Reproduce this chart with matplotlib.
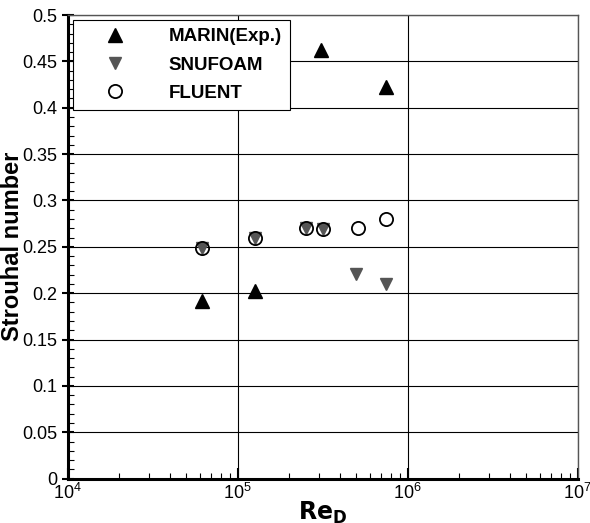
import numpy as np
import matplotlib.pyplot as plt
from matplotlib.ticker import MultipleLocator, LogLocator, NullFormatter

plt.rc('font', family='Liberation Sans')

# Data
marin_re = [6.2e4, 1.26e5, 3.1e5, 7.5e5]
marin_st = [0.192, 0.202, 0.462, 0.422]

snufoam_re = [6.2e4, 1.26e5, 2.52e5, 3.16e5, 5.0e5, 7.5e5]
snufoam_st = [0.249, 0.26, 0.27, 0.269, 0.221, 0.21]

fluent_re = [6.2e4, 1.26e5, 2.52e5, 3.16e5, 5.1e5, 7.5e5]
fluent_st = [0.249, 0.26, 0.27, 0.269, 0.27, 0.28]

fig = plt.figure(figsize=(5.9, 5.23), dpi=100)
ax = fig.add_axes([0.1147, 0.0849, 0.979 - 0.1147, 0.9713 - 0.0849])

ax.plot(marin_re, marin_st, '^', color='black', ms=9.5, ls='none',
        label='MARIN(Exp.)', zorder=3)
ax.plot(snufoam_re, snufoam_st, 'v', color='#555555', ms=8.5, ls='none',
        label='SNUFOAM', zorder=3)
ax.plot(fluent_re, fluent_st, 'o', mfc='none', mec='black', mew=1.3, ms=9.5,
        ls='none', label='FLUENT', zorder=4)

ax.set_xscale('log')
ax.set_xlim(1e4, 1e7)
ax.set_ylim(0, 0.5)

ax.set_yticks(np.arange(0, 0.51, 0.05))
ax.set_yticklabels(['0', '0.05', '0.1', '0.15', '0.2', '0.25', '0.3',
                    '0.35', '0.4', '0.45', '0.5'])
ax.yaxis.set_minor_locator(MultipleLocator(0.01))
ax.xaxis.set_major_locator(LogLocator(base=10, numticks=10))
ax.xaxis.set_minor_locator(LogLocator(base=10, subs=np.arange(2, 10), numticks=20))
ax.xaxis.set_minor_formatter(NullFormatter())

ax.grid(True, which='major', color='black', lw=0.8)
ax.tick_params(which='major', direction='inout', length=8, width=1.5,
               labelsize=13)
ax.tick_params(which='minor', direction='in', length=4, width=0.8)
ax.tick_params(axis='x', which='major', direction='in', length=8, pad=3)

for s in ['left', 'bottom']:
    ax.spines[s].set_linewidth(2.2)
for s in ['top', 'right']:
    ax.spines[s].set_linewidth(1.0)
    ax.spines[s].set_color('#555555')

ax.set_xlabel(r'$\mathbf{Re_D}$', fontsize=17, labelpad=-2)
ax.set_ylabel('Strouhal number', fontsize=17, fontweight='bold')
ax.yaxis.set_label_coords(-0.085, 0.5)

leg = ax.legend(loc='upper left', bbox_to_anchor=(0.01, 0.99),
                prop={'weight': 'bold', 'size': 13.5}, fancybox=False,
                framealpha=1, edgecolor='black', borderpad=0.45,
                handletextpad=1.05, borderaxespad=0.0, labelspacing=0.6,
                handlelength=3.6)
leg.get_frame().set_linewidth(0.8)

plt.savefig('out.png', dpi=100)
